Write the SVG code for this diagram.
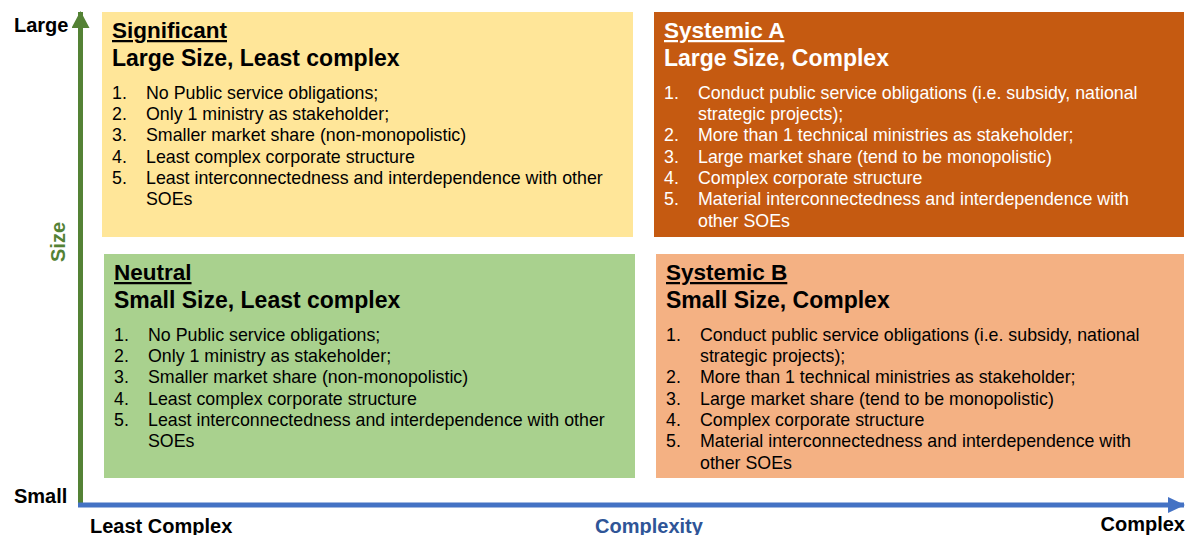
<svg xmlns="http://www.w3.org/2000/svg" width="1185" height="535" viewBox="0 0 1185 535">
<style>
text{font-family:"Liberation Sans",Arial,sans-serif}
.t{font-size:22.5px;font-weight:bold;text-decoration:underline}
.s{font-size:23px;font-weight:bold}
.i{font-size:17.8px}
.ax{font-size:20px;font-weight:bold;fill:#000}
.dk{fill:#000}
.wh{fill:#fff}
</style>
<defs>
<marker id="ag" markerUnits="userSpaceOnUse" markerWidth="20" markerHeight="20" refX="16" refY="9" orient="auto"><path d="M0,0 L17,9 L0,18 Z" fill="#548235"/></marker>
<marker id="ab" markerUnits="userSpaceOnUse" markerWidth="20" markerHeight="20" refX="16" refY="8" orient="auto"><path d="M0,0 L17,8 L0,16 Z" fill="#4472C4"/></marker>
</defs>
<g id="axes">
<line x1="80.5" y1="503" x2="80.5" y2="12" stroke="#548235" stroke-width="5" marker-end="url(#ag)"/>
<line x1="78" y1="505" x2="1184" y2="505" stroke="#4472C4" stroke-width="5" marker-end="url(#ab)"/>
</g>
<g id="axis-labels">
<text class="ax" x="14" y="32">Large</text>
<text class="ax" x="14" y="503">Small</text>
<text class="ax" x="90" y="533">Least Complex</text>
<text class="ax" x="649" y="533" text-anchor="middle" style="fill:#2F5597">Complexity</text>
<text class="ax" x="1185" y="531" text-anchor="end">Complex</text>
<text class="ax" transform="translate(65,242) rotate(-90)" text-anchor="middle" style="fill:#548235">Size</text>
</g>
<g id="significant">
<rect x="102" y="12" width="531" height="225" fill="#FFE699"/>
<g class="dk">
<text class="t" x="112" y="38">Significant</text>
<text class="s" x="112" y="66">Large Size, Least complex</text>
<g class="i">
<text x="112" y="99">1.</text><text x="146" y="99">No Public service obligations;</text>
<text x="112" y="120">2.</text><text x="146" y="120">Only 1 ministry as stakeholder;</text>
<text x="112" y="141">3.</text><text x="146" y="141">Smaller market share (non-monopolistic)</text>
<text x="112" y="163">4.</text><text x="146" y="163">Least complex corporate structure</text>
<text x="112" y="184">5.</text><text x="146" y="184">Least interconnectedness and interdependence with other</text>
<text x="146" y="205">SOEs</text>
</g>
</g>
</g>
<g id="systemic-a">
<rect x="654" y="12" width="530" height="225" fill="#C55A11"/>
<g class="wh">
<text class="t" x="664" y="38">Systemic A</text>
<text class="s" x="664" y="66">Large Size, Complex</text>
<g class="i">
<text x="664" y="99">1.</text><text x="698" y="99">Conduct public service obligations (i.e. subsidy, national</text>
<text x="698" y="120">strategic projects);</text>
<text x="664" y="141">2.</text><text x="698" y="141">More than 1 technical ministries as stakeholder;</text>
<text x="664" y="163">3.</text><text x="698" y="163">Large market share (tend to be monopolistic)</text>
<text x="664" y="184">4.</text><text x="698" y="184">Complex corporate structure</text>
<text x="664" y="205">5.</text><text x="698" y="205">Material interconnectedness and interdependence with</text>
<text x="698" y="227">other SOEs</text>
</g>
</g>
</g>
<g id="neutral">
<rect x="104" y="254" width="531" height="224" fill="#A9D18E"/>
<g class="dk">
<text class="t" x="114" y="280">Neutral</text>
<text class="s" x="114" y="308">Small Size, Least complex</text>
<g class="i">
<text x="114" y="341">1.</text><text x="148" y="341">No Public service obligations;</text>
<text x="114" y="362">2.</text><text x="148" y="362">Only 1 ministry as stakeholder;</text>
<text x="114" y="383">3.</text><text x="148" y="383">Smaller market share (non-monopolistic)</text>
<text x="114" y="405">4.</text><text x="148" y="405">Least complex corporate structure</text>
<text x="114" y="426">5.</text><text x="148" y="426">Least interconnectedness and interdependence with other</text>
<text x="148" y="447">SOEs</text>
</g>
</g>
</g>
<g id="systemic-b">
<rect x="656" y="254" width="528" height="224" fill="#F4B183"/>
<g class="dk">
<text class="t" x="666" y="280">Systemic B</text>
<text class="s" x="666" y="308">Small Size, Complex</text>
<g class="i">
<text x="666" y="341">1.</text><text x="700" y="341">Conduct public service obligations (i.e. subsidy, national</text>
<text x="700" y="362">strategic projects);</text>
<text x="666" y="383">2.</text><text x="700" y="383">More than 1 technical ministries as stakeholder;</text>
<text x="666" y="405">3.</text><text x="700" y="405">Large market share (tend to be monopolistic)</text>
<text x="666" y="426">4.</text><text x="700" y="426">Complex corporate structure</text>
<text x="666" y="447">5.</text><text x="700" y="447">Material interconnectedness and interdependence with</text>
<text x="700" y="469">other SOEs</text>
</g>
</g>
</g>
</svg>
